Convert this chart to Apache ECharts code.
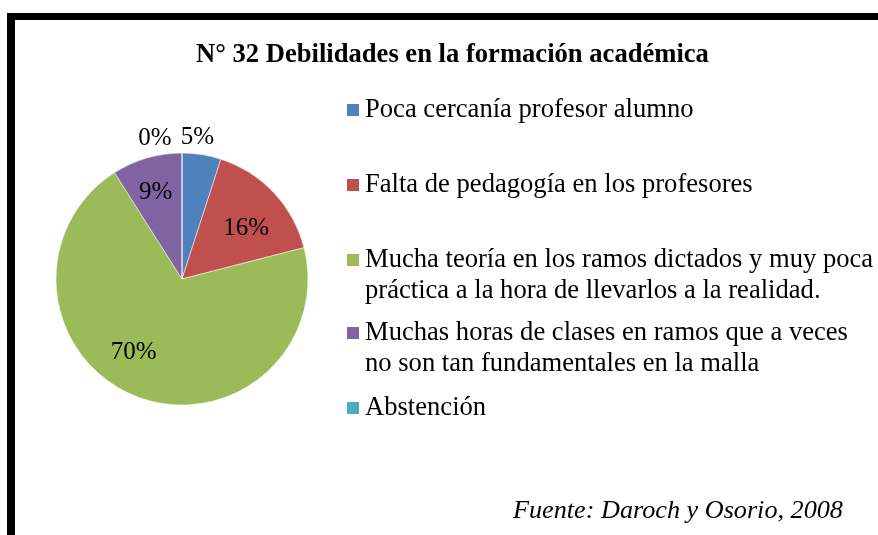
<!DOCTYPE html>
<html>
<head>
<meta charset="utf-8" />
<title>Debilidades en la formación académica</title>
<script src="https://cdn.jsdelivr.net/npm/echarts@6/dist/echarts.min.js"></script>
<style>
  html, body { margin: 0; padding: 0; background: #fff; }
  #chart { width: 878px; height: 535px; }
  #frame { position: absolute; left: 7px; top: 13px; width: 900px; height: 560px;
           border-top: 7px solid #000; border-left: 8px solid #000; pointer-events: none; }
</style>
</head>
<body>
<div id="chart"></div>
<div id="frame"></div>
<script type="text/javascript">
    // categorias y porcentajes
    var categorias = [
        'Poca cercanía profesor alumno',
        'Falta de pedagogía en los profesores',
        'Mucha teoría en los ramos dictados y muy poca\npráctica a la hora de llevarlos a la realidad.',
        'Muchas horas de clases en ramos que a veces\nno son tan fundamentales en la malla',
        'Abstención'
    ];
    var valores = [5, 16, 70, 9, 0];
    var colores = ['#4F81BD', '#C0504D', '#9BBB59', '#8064A2', '#4BACC6'];

    // desplazamiento de cada etiqueta respecto a la posicion "inside"
    var desplaz = [[5, -76], [16, -5], [-24, 12], [-8, -23], [-27, -75]];
    // centro vertical del icono de cada entrada de la leyenda
    var leyendaY = [110, 185, 260, 333, 408];

    var serif = 'Liberation Serif, Times New Roman, serif';
    var lineaLey = 31;
    var myChart = echarts.init(document.getElementById('chart'));

    var leyendas = categorias.map(function (c, i) {
        var multi = c.indexOf('\n') >= 0;
        // con una linea en blanco arriba el icono queda a la altura de la primera linea
        var alto = multi ? 3 * lineaLey : lineaLey;
        return {
            left: 345,
            top: leyendaY[i] - alto / 2,
            padding: 0,
            orient: 'vertical',
            itemWidth: 14,
            itemHeight: 14,
            icon: 'rect',
            selectedMode: false,
            data: [c],
            formatter: function (name) {
                return multi ? ' \n' + name : name;
            },
            textStyle: {
                fontFamily: serif,
                fontSize: 26.6,
                color: '#000',
                lineHeight: lineaLey
            }
        };
    });

    var option = {
        animation: false,
        color: colores,
        title: [{
            text: 'N° 32 Debilidades en la formación académica',
            left: 191,
            top: 37,
            textStyle: { fontFamily: serif, fontSize: 26.6, fontWeight: 'bold', color: '#000' }
        }, {
            text: 'Fuente: Daroch y Osorio, 2008',
            left: 508,
            top: 493,
            textStyle: { fontFamily: serif, fontSize: 26.2, fontStyle: 'italic', fontWeight: 'normal', color: '#000' }
        }],
        legend: leyendas,
        series: [{
            type: 'pie',
            center: [182, 279],
            radius: 126,
            startAngle: 90,
            clockwise: true,
            avoidLabelOverlap: false,
            itemStyle: { borderColor: '#fff', borderWidth: 0.5 },
            label: {
                show: true,
                position: 'inside',
                formatter: '{c}%',
                fontFamily: serif,
                fontSize: 25,
                color: '#000'
            },
            labelLine: { show: false },
            labelLayout: function (params) {
                var d = desplaz[params.dataIndex];
                return { dx: d[0], dy: d[1] };
            },
            emphasis: { disabled: true },
            data: categorias.map(function (c, i) {
                return { name: c, value: valores[i] };
            })
        }]
    };

    myChart.setOption(option);
</script>
</body>
</html>
